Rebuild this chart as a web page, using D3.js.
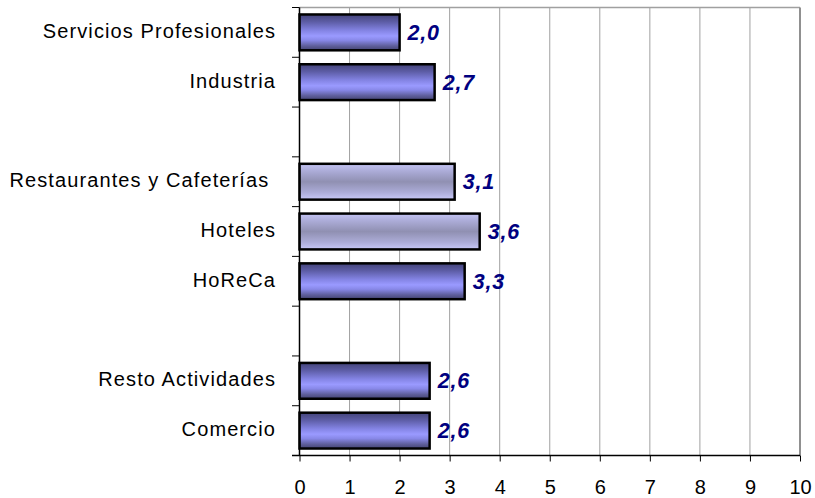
<!DOCTYPE html>
<html><head><meta charset="utf-8">
<script src="https://cdn.jsdelivr.net/npm/d3@7"></script>
<style>body{margin:0;background:#fff}svg{display:block}text{font-family:Arial,"Liberation Sans",sans-serif}</style>
</head><body><div id="chart"></div>
<script>
const categories = ["Servicios Profesionales","Industria","gap1","Restaurantes y Cafeterías ","Hoteles","HoReCa","gap2","Resto Actividades","Comercio"];
const values = [2.0, 2.7, null, 3.1, 3.6, 3.3, null, 2.6, 2.6];
const styles = ["blue","blue",null,"gray","gray","blue",null,"blue","blue"];
const xTicks = [0,1,2,3,4,5,6,7,8,9,10];

const W = 815, H = 498;
const svg = d3.select("#chart").append("svg").attr("width", W).attr("height", H);
const defs = svg.append("defs");
const gb = defs.append("linearGradient").attr("id","gBlue").attr("x1",0).attr("y1",0).attr("x2",0).attr("y2",1);
[[0,"#44447a"],[0.2,"#5c5ca4"],[0.45,"#8484e4"],[0.6,"#9a9aff"],[0.72,"#8888e8"],[0.88,"#5e5e9a"],[1,"#444472"]]
 .forEach(([o,c])=>gb.append("stop").attr("offset",o).attr("stop-color",c));
const gg = defs.append("linearGradient").attr("id","gGray").attr("x1",0).attr("y1",0).attr("x2",0).attr("y2",1);
[[0,"#c4c4f4"],[0.2,"#acacd8"],[0.5,"#9090b2"],[0.8,"#acacd8"],[1,"#c8c8f8"]]
 .forEach(([o,c])=>gg.append("stop").attr("offset",o).attr("stop-color",c));

const x = d3.scaleLinear().domain([0,10]).range([299.5,800]);
const y = d3.scaleBand().domain(categories).range([7.5,455.5]).paddingInner(0.28).paddingOuter(0.14);

// grid
svg.append("g").selectAll("line").data(xTicks.slice(1,-1)).join("line")
  .attr("x1",d=>x(d)).attr("x2",d=>x(d)).attr("y1",7.5).attr("y2",455.5)
  .attr("stroke","#a0a0a0").attr("stroke-width",1);
svg.append("line").attr("x1",299.5).attr("x2",800).attr("y1",7.5).attr("y2",7.5).attr("stroke","#a0a0a0").attr("stroke-width",1.5);
svg.append("line").attr("x1",800).attr("x2",800).attr("y1",7.5).attr("y2",455.5).attr("stroke","#909090").attr("stroke-width",2);

// bars
const data = categories.map((c,i)=>({c,v:values[i],s:styles[i]})).filter(d=>d.v!=null);
svg.append("g").selectAll("rect").data(data).join("rect")
  .attr("x",x(0)).attr("y",d=>y(d.c)).attr("width",d=>x(d.v)-x(0)).attr("height",y.bandwidth())
  .attr("fill",d=>d.s==="gray"?"url(#gGray)":"url(#gBlue)")
  .attr("stroke","#000").attr("stroke-width",2.5);

// value labels
svg.append("g").selectAll("text").data(data).join("text")
  .attr("x",d=>x(d.v)+8).attr("y",d=>y(d.c)+y.bandwidth()/2+7.5)
  .attr("fill","#000080").attr("font-size",21.5).attr("font-weight","bold").attr("font-style","italic")
  .attr("letter-spacing",0.8)
  .text(d=>d3.format(".1f")(d.v).replace(".",","));

// x axis
const xAxis = svg.append("g").attr("transform","translate(0,455.5)")
  .call(d3.axisBottom(x).tickValues(xTicks).tickSize(6).tickPadding(0).tickFormat(d=>d));
xAxis.select(".domain").remove();
xAxis.selectAll(".tick line").attr("stroke","#000");
xAxis.selectAll("text").attr("font-size",20).attr("fill","#000").attr("dy",null).attr("y",38.5)
  .attr("font-family","Arial, 'Liberation Sans', sans-serif");
svg.append("line").attr("x1",292).attr("x2",800).attr("y1",455.5).attr("y2",455.5).attr("stroke","#000").attr("stroke-width",1.5);

// y axis line & ticks at slot boundaries
const bounds = d3.range(categories.length+1).map(i=>7.5 + i*(448/categories.length));
svg.append("line").attr("x1",299.5).attr("x2",299.5).attr("y1",7.5).attr("y2",455.5).attr("stroke","#000").attr("stroke-width",1.5);
svg.append("g").selectAll("line").data(bounds).join("line")
  .attr("x1",292).attr("x2",299.5).attr("y1",d=>d).attr("y2",d=>d).attr("stroke","#000");

// category labels
svg.append("g").selectAll("text").data(categories.filter(c=>!c.startsWith("gap"))).join("text")
  .attr("x",276).attr("y",c=>y(c)+y.bandwidth()/2+5.5)
  .attr("text-anchor","end").attr("font-size",20).attr("fill","#000").attr("letter-spacing",1.1)
  .style("white-space","pre").text(c=>c);
</script></body></html>
